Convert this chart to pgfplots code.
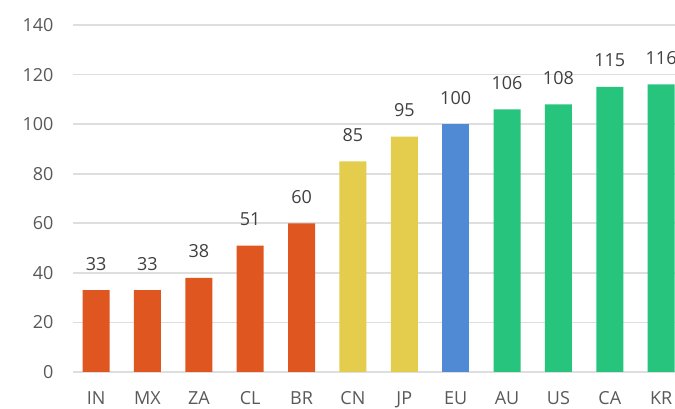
\documentclass[border=0pt]{standalone}
\usepackage{fontspec}
\setmainfont{Open Sans}
\usepackage{pgfplots}
\pgfplotsset{compat=1.18}
\definecolor{cOrange}{RGB}{224,86,32}
\definecolor{cYellow}{RGB}{228,204,76}
\definecolor{cBlue}{RGB}{80,138,212}
\definecolor{cGreen}{RGB}{38,196,124}
\definecolor{gridc}{RGB}{222,222,222}
\definecolor{tickc}{RGB}{89,89,89}
\definecolor{valc}{RGB}{64,64,64}
\begin{document}
\begin{tikzpicture}[x=1pt,y=1pt]
\begin{axis}[
  at={(0,0)}, anchor=south west,
  scale only axis,
  width=602pt, height=347pt,
  xmin=-0.45, xmax=11.27,
  ymin=0, ymax=140,
  ytick={0,20,...,140},
  xtick={0,...,11},
  xticklabels={IN,MX,ZA,CL,BR,CN,JP,EU,AU,US,CA,KR},
  axis line style={draw=none},
  major tick length=0pt,
  ymajorgrids,
  grid style={gridc, line width=1.8pt},
  /pgf/number format/assume math mode=true,
  ticklabel style={font=\fontsize{18}{21}\selectfont, text=tickc},
  yticklabel style={anchor=east, xshift=-16pt},
  xticklabel style={anchor=base, yshift=-33pt},
  ybar, bar width=27pt,
  bar shift=0pt,
  nodes near coords,
  every node near coord/.append style={font=\fontsize{18}{21}\selectfont, text=valc, anchor=base, yshift=20pt},
  clip=false,
]
\addplot[fill=cOrange, draw=none] coordinates {(0,33) (1,33) (2,38) (3,51) (4,60)};
\addplot[fill=cYellow, draw=none] coordinates {(5,85) (6,95)};
\addplot[fill=cBlue, draw=none] coordinates {(7,100)};
\addplot[fill=cGreen, draw=none] coordinates {(8,106) (9,108) (10,115) (11,116)};
\end{axis}
\pgfresetboundingbox
\useasboundingbox (-73pt,-37pt) rectangle (602pt,372pt);
\end{tikzpicture}
\end{document}
